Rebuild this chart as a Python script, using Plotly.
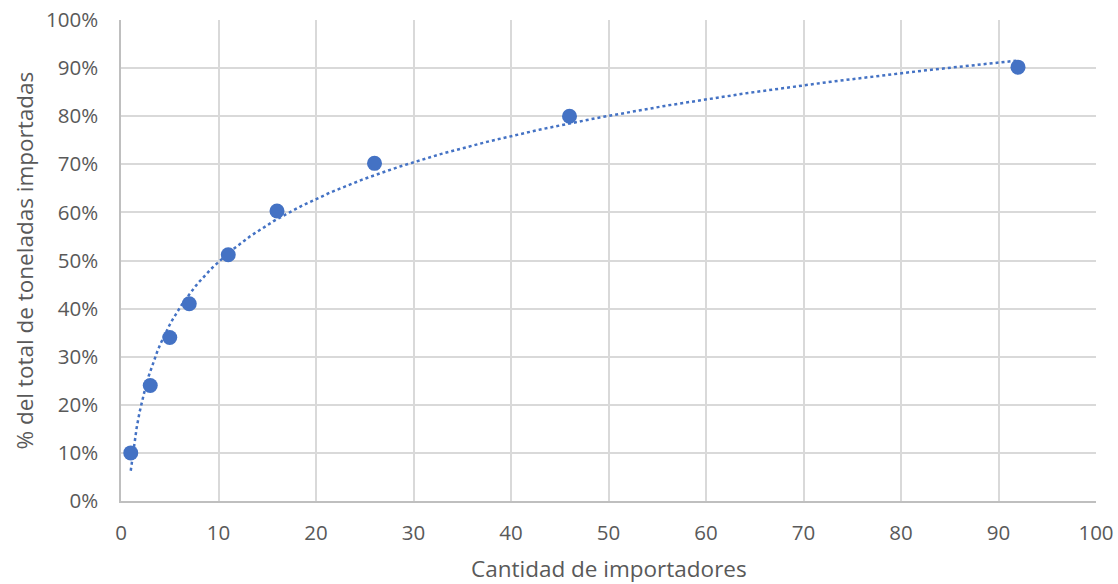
import numpy as np
import plotly.graph_objects as go

importadores = [1, 3, 5, 7, 11, 16, 26, 46, 92]
porcentaje = [0.10, 0.24, 0.34, 0.41, 0.512, 0.603, 0.702, 0.80, 0.902]
x_titulo = "Cantidad de importadores"
y_titulo = "% del total de toneladas importadas"

# Logarithmic trendline (least squares on ln x)
lx = np.log(np.array(importadores, dtype=float))
a, b = np.polyfit(lx, np.array(porcentaje), 1)
xt = np.linspace(min(importadores), max(importadores), 300)
yt = a * np.log(xt) + b

color = "#4472C4"
grid = "#d9d9d9"
txt = "#595959"

fig = go.Figure()
fig.add_trace(go.Scatter(x=xt, y=yt, mode="lines",
                         line=dict(color=color, width=2.5, dash="dot"),
                         hoverinfo="skip", showlegend=False))
fig.add_trace(go.Scatter(x=importadores, y=porcentaje, mode="markers",
                         marker=dict(color=color, size=15),
                         showlegend=False))

fig.update_layout(
    width=1118, height=584,
    margin=dict(l=121, r=22, t=20, b=83),
    paper_bgcolor="white", plot_bgcolor="white",
    font=dict(family="Open Sans, Liberation Sans, sans-serif", color=txt, size=20.5),
    xaxis=dict(range=[0, 100], tickvals=list(range(0, 101, 10)), showgrid=True, gridcolor=grid, gridwidth=1.5,
               showline=True, linecolor="#bfbfbf", linewidth=1.5, zeroline=False, automargin=False,
               ticks="", ticklabelstandoff=13, ticklabeloverflow="allow"),
    yaxis=dict(range=[0, 1], tickvals=[i / 10 for i in range(11)], tickformat=".0%", showgrid=True,
               gridcolor=grid, gridwidth=1.5, automargin=False,
               showline=True, linecolor="#bfbfbf", linewidth=1.5, zeroline=False,
               ticks="", ticklabelstandoff=17, ticklabeloverflow="allow"),
    annotations=[
        dict(text=x_titulo, xref="paper", yref="paper", x=0.5, y=0, yshift=-67,
             xanchor="center", yanchor="middle", showarrow=False, borderpad=0,
             font=dict(size=22.5, color=txt)),
        dict(text=y_titulo, xref="paper", yref="paper", x=0, y=0.5, xshift=-97,
             xanchor="center", yanchor="middle", textangle=-90, showarrow=False, borderpad=0,
             font=dict(size=22.5, color=txt)),
    ],
)
fig.write_html("out.html", config={"displayModeBar": False},
               post_script="document.body.style.margin='0';")
